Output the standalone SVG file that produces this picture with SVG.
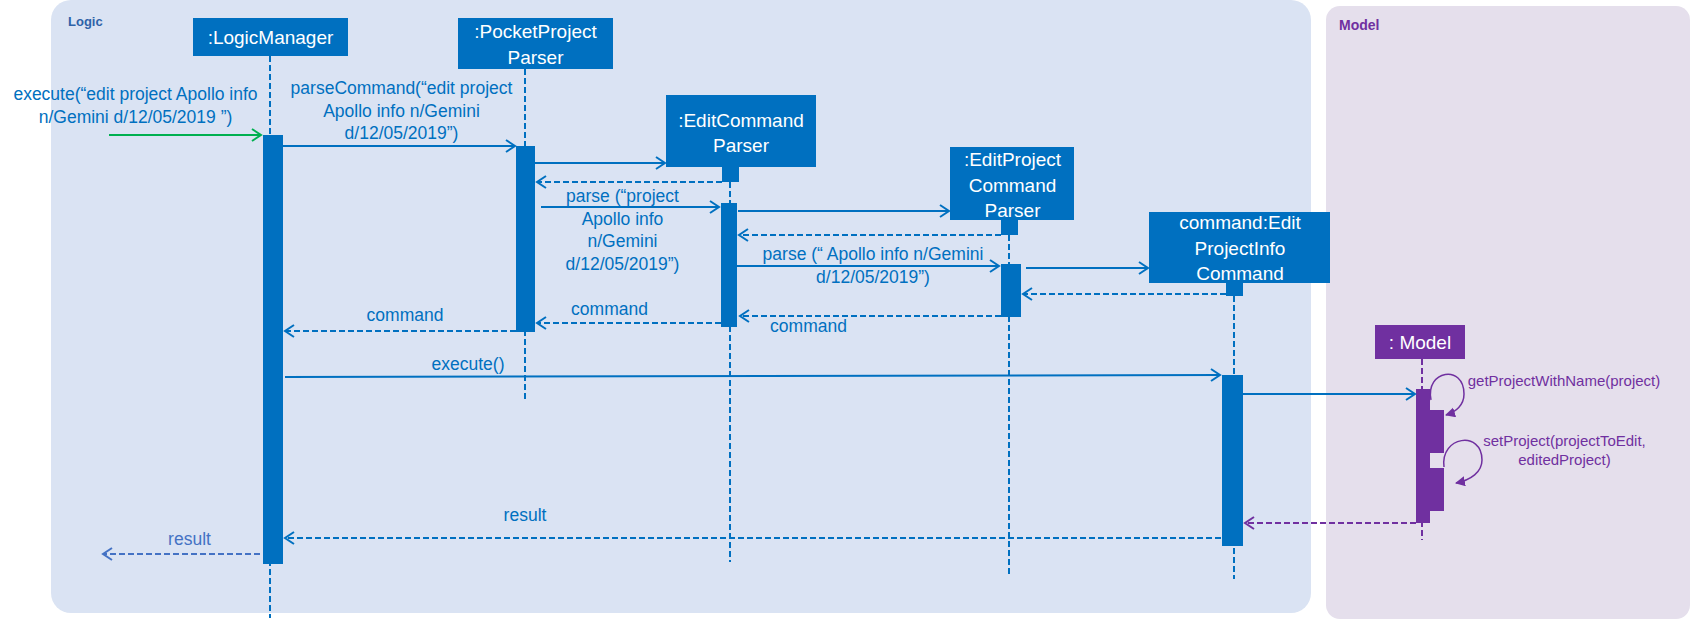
<svg xmlns="http://www.w3.org/2000/svg" width="1696" height="632" viewBox="0 0 1696 632">
<defs>
<style>
text{font-family:"Liberation Sans",Arial,sans-serif}
.box{fill:#0070C0}
.pbox{fill:#7030A0}
.bt{fill:#fff;font-size:19px;text-anchor:middle}
.mt{fill:#0070C0;font-size:17.5px;text-anchor:middle}
.pt{fill:#7030A0;font-size:15px;text-anchor:middle}
.life{stroke:#0070C0;stroke-width:2;stroke-dasharray:6 3;fill:none}
.plife{stroke:#7030A0;stroke-width:2;stroke-dasharray:6 3;fill:none}
.act{fill:#0070C0}
.pact{fill:#7030A0}
.msg{stroke:#0070C0;stroke-width:2;fill:none;marker-end:url(#ab)}
.ret{stroke:#0070C0;stroke-width:2;stroke-dasharray:6 3;fill:none;marker-end:url(#ab)}
</style>
<marker id="ab" markerUnits="userSpaceOnUse" markerWidth="12" markerHeight="14" refX="10" refY="7" orient="auto"><path d="M1,1 L10,7 L1,13" fill="none" stroke="#0070C0" stroke-width="2" stroke-dasharray="none"/></marker>
<marker id="ag" markerUnits="userSpaceOnUse" markerWidth="12" markerHeight="14" refX="10" refY="7" orient="auto"><path d="M1,1 L10,7 L1,13" fill="none" stroke="#00B050" stroke-width="2"/></marker>
<marker id="ap" markerUnits="userSpaceOnUse" markerWidth="12" markerHeight="14" refX="10" refY="7" orient="auto"><path d="M1,1 L10,7 L1,13" fill="none" stroke="#7030A0" stroke-width="2" stroke-dasharray="none"/></marker>
<marker id="al" markerUnits="userSpaceOnUse" markerWidth="12" markerHeight="14" refX="10" refY="7" orient="auto"><path d="M1,1 L10,7 L1,13" fill="none" stroke="#4472C4" stroke-width="2" stroke-dasharray="none"/></marker>
<marker id="apf" markerUnits="userSpaceOnUse" markerWidth="12" markerHeight="12" refX="9" refY="5" orient="auto"><path d="M0,0 L10,5 L0,10 Z" fill="#7030A0"/></marker>
</defs>

<g id="panel-logic">
<rect x="51" y="0" width="1260" height="613" rx="20" fill="#DAE3F3"/>
<text x="68" y="26" font-size="13" font-weight="bold" fill="#2E62A8">Logic</text>
</g>
<g id="panel-model">
<rect x="1326" y="6" width="364" height="613" rx="14" fill="#E5DFEC"/>
<text x="1339" y="30" font-size="14" font-weight="bold" fill="#7030A0">Model</text>
</g>

<g id="node-logicmanager">
<line class="life" x1="270" y1="56" x2="270" y2="618"/>
<rect class="box" x="193" y="18" width="155" height="38"/>
<text class="bt" x="270.5" y="44">:LogicManager</text>
<rect class="act" x="263" y="135" width="20" height="429"/>
</g>

<g id="node-pocketprojectparser">
<line class="life" x1="525" y1="69" x2="525" y2="400"/>
<rect class="box" x="458" y="18" width="155" height="51"/>
<text class="bt" x="535.5" y="38">:PocketProject</text>
<text class="bt" x="535.5" y="64">Parser</text>
<rect class="act" x="516" y="146" width="19" height="186"/>
</g>

<g id="node-editcommandparser">
<line class="life" x1="730" y1="182" x2="730" y2="562"/>
<rect class="box" x="666" y="95" width="150" height="72"/>
<text class="bt" x="741" y="127">:EditCommand</text>
<text class="bt" x="741" y="152">Parser</text>
<rect class="act" x="722" y="167" width="17" height="15"/>
<rect class="act" x="721" y="203" width="16" height="124"/>
</g>

<g id="node-editprojectcommandparser">
<line class="life" x1="1009" y1="235" x2="1009" y2="577"/>
<rect class="box" x="950" y="147" width="124" height="73"/>
<text class="bt" x="1012.5" y="166">:EditProject</text>
<text class="bt" x="1012.5" y="192">Command</text>
<text class="bt" x="1012.5" y="217">Parser</text>
<rect class="act" x="1001" y="220" width="17" height="15"/>
<rect class="act" x="1001" y="264" width="20" height="53"/>
</g>

<g id="node-editprojectinfocommand">
<line class="life" x1="1234" y1="296" x2="1234" y2="579"/>
<rect class="box" x="1149" y="212" width="181" height="71"/>
<text class="bt" x="1240" y="229">command:Edit</text>
<text class="bt" x="1240" y="255">ProjectInfo</text>
<text class="bt" x="1240" y="280">Command</text>
<rect class="act" x="1226" y="283" width="17" height="13"/>
<rect class="act" x="1222" y="375" width="21" height="171"/>
</g>

<g id="node-model">
<line class="plife" x1="1422" y1="359" x2="1422" y2="540"/>
<rect class="pbox" x="1375" y="325" width="90" height="34"/>
<text class="bt" x="1420" y="349">: Model</text>
<rect class="pact" x="1416" y="389" width="14" height="134"/>
<rect class="pact" x="1430" y="410" width="14" height="43"/>
<rect class="pact" x="1430" y="468" width="14" height="43"/>
</g>

<g id="connectors">
<line x1="109" y1="135" x2="261" y2="135" stroke="#00B050" stroke-width="2" marker-end="url(#ag)"/>
<text class="mt" x="135.5" y="100">execute(“edit project Apollo info</text>
<text class="mt" x="135.5" y="123">n/Gemini d/12/05/2019 ”)</text>

<line class="msg" x1="283" y1="146" x2="515" y2="146"/>
<text class="mt" x="401.5" y="94">parseCommand(“edit project</text>
<text class="mt" x="401.5" y="117">Apollo info n/Gemini</text>
<text class="mt" x="401.5" y="139">d/12/05/2019”)</text>

<line class="msg" x1="535" y1="163" x2="665" y2="163"/>
<line class="ret" x1="722" y1="182" x2="537" y2="182"/>

<line class="msg" x1="541" y1="207" x2="719" y2="207"/>
<text class="mt" x="622.5" y="202">parse (“project</text>
<text class="mt" x="622.5" y="225">Apollo info</text>
<text class="mt" x="622.5" y="247">n/Gemini</text>
<text class="mt" x="622.5" y="270">d/12/05/2019”)</text>

<line class="msg" x1="738" y1="211" x2="949" y2="211"/>
<line class="ret" x1="1001" y1="235" x2="739" y2="235"/>

<line class="msg" x1="737" y1="266" x2="999" y2="266"/>
<text class="mt" x="873" y="260">parse (“ Apollo info n/Gemini</text>
<text class="mt" x="873" y="283">d/12/05/2019”)</text>

<line class="msg" x1="1026" y1="268" x2="1148" y2="268"/>
<line class="ret" x1="1226" y1="294" x2="1023" y2="294"/>

<line class="ret" x1="1001" y1="316" x2="740" y2="316"/>
<text class="mt" x="808.5" y="332">command</text>

<line class="ret" x1="721" y1="323" x2="537" y2="323"/>
<text class="mt" x="609.5" y="315">command</text>

<line class="ret" x1="516" y1="331" x2="285" y2="331"/>
<text class="mt" x="405" y="321">command</text>

<line class="msg" x1="285" y1="377" x2="1220" y2="375"/>
<text class="mt" x="468" y="370">execute()</text>

<line class="msg" x1="1243" y1="394" x2="1415" y2="394"/>

<path d="M1431,400 C1425,370 1464,364 1464,394 C1464,405 1456,412 1446,415" fill="none" stroke="#7030A0" stroke-width="1.5" marker-end="url(#apf)"/>
<text class="pt" x="1564" y="386">getProjectWithName(project)</text>

<path d="M1444,467 C1440,436 1482,430 1482,460 C1482,472 1471,480 1456,483" fill="none" stroke="#7030A0" stroke-width="1.5" marker-end="url(#apf)"/>
<text class="pt" x="1564.5" y="446">setProject(projectToEdit,</text>
<text class="pt" x="1564.5" y="465">editedProject)</text>

<line x1="1416" y1="523" x2="1245" y2="523" stroke="#7030A0" stroke-width="2" stroke-dasharray="6 3" marker-end="url(#ap)"/>

<line class="ret" x1="1221" y1="538" x2="285" y2="538"/>
<text class="mt" x="525" y="521">result</text>

<line x1="260" y1="554" x2="103" y2="554" stroke="#4472C4" stroke-width="2" stroke-dasharray="6 3" marker-end="url(#al)"/>
<text x="189.5" y="545" font-size="17.5" text-anchor="middle" fill="#4472C4">result</text>
</g>
</svg>
